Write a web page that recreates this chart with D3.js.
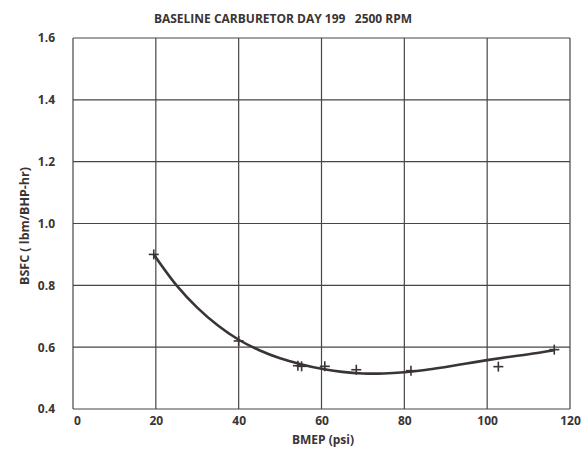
<!DOCTYPE html>
<html>
<head>
<meta charset="utf-8">
<script src="https://cdn.jsdelivr.net/npm/d3@7"></script>
<style>
  body { margin: 0; background: #fff; }
  text { font-family: "Open Sans", "DejaVu Sans", sans-serif; font-weight: bold; fill: #3a3434; }
</style>
</head>
<body>
<div id="chart"></div>
<script>
// BSFC vs BMEP, baseline carburetor, day 199, 2500 rpm

var w = 582,
    h = 451;

var margin = {top:38, right:12, bottom:42, left:73};

// measured points (+ markers)
var bmep = [19.5, 40, 54.3, 55.2, 60.8, 68.4, 81.6, 102.7, 116.2];
var bsfc = [0.900, 0.620, 0.540, 0.538, 0.538, 0.527, 0.524, 0.537, 0.592];

// faired curve
var curveX = [19.5, 25, 30, 35, 40, 45, 50, 55, 60, 65, 70, 75, 80, 85, 90, 95, 100, 105, 110, 116.2];
var curveY = [0.900, 0.800, 0.728, 0.670, 0.624, 0.590, 0.564, 0.545, 0.530, 0.520, 0.515, 0.515, 0.519, 0.526, 0.536, 0.547, 0.558, 0.568, 0.577, 0.590];

var xTicks = [0, 20, 40, 60, 80, 100, 120];
var yTicks = [0.4, 0.6, 0.8, 1.0, 1.2, 1.4, 1.6];

var ink = "#3a3434";

var svg = d3.select("#chart")
            .append("svg")
            .attr("width", w)
            .attr("height", h);

var x = d3.scaleLinear().domain([0, 120]).range([margin.left, w - margin.right]);
var y = d3.scaleLinear().domain([0.4, 1.6]).range([h - margin.bottom, margin.top]);

// grid
svg.append("g")
   .selectAll("line.v")
   .data(xTicks)
   .enter()
   .append("line")
   .attr("x1", function(d){ return x(d); })
   .attr("x2", function(d){ return x(d); })
   .attr("y1", y(0.4))
   .attr("y2", y(1.6))
   .attr("stroke", "#4a4444")
   .attr("stroke-width", 1.2);

svg.append("g")
   .selectAll("line.h")
   .data(yTicks)
   .enter()
   .append("line")
   .attr("x1", x(0))
   .attr("x2", x(120))
   .attr("y1", function(d){ return y(d); })
   .attr("y2", function(d){ return y(d); })
   .attr("stroke", "#4a4444")
   .attr("stroke-width", 1.2);

// axes (labels only, grid draws the lines)
var xAxis = svg.append("g")
   .attr("transform", "translate(0," + y(0.4) + ")")
   .call(d3.axisBottom(x).tickValues(xTicks).tickSize(0).tickPadding(7).tickFormat(d3.format("d")));
xAxis.select(".domain").remove();
xAxis.selectAll("text").attr("font-size", "12px").style("font-family", null);
xAxis.selectAll("text").filter(function(d){ return d === 0; }).attr("dx", 4);

var yAxis = svg.append("g")
   .attr("transform", "translate(" + x(0) + ",0)")
   .call(d3.axisLeft(y).tickValues(yTicks).tickSize(0).tickPadding(18).tickFormat(d3.format(".1f")));
yAxis.select(".domain").remove();
yAxis.selectAll("text").attr("font-size", "12px").style("font-family", null);

// faired curve
var line = d3.line()
   .x(function(d){ return x(d[0]); })
   .y(function(d){ return y(d[1]); })
   .curve(d3.curveCatmullRom);

svg.append("path")
   .datum(d3.zip(curveX, curveY))
   .attr("d", line)
   .attr("fill", "none")
   .attr("stroke", ink)
   .attr("stroke-width", 2.6);

// data markers
var pts = svg.append("g")
   .selectAll("g.pt")
   .data(d3.zip(bmep, bsfc))
   .enter()
   .append("g")
   .attr("transform", function(d){ return "translate(" + x(d[0]) + "," + y(d[1]) + ")"; });

pts.append("line").attr("x1", -5).attr("x2", 5).attr("y1", 0).attr("y2", 0)
   .attr("stroke", ink).attr("stroke-width", 1.6);
pts.append("line").attr("x1", 0).attr("x2", 0).attr("y1", -5).attr("y2", 5)
   .attr("stroke", ink).attr("stroke-width", 1.6);

// titles
svg.append("text")
   .attr("x", 283)
   .attr("y", 23)
   .attr("text-anchor", "middle")
   .attr("font-size", "12px")
   .attr("xml:space", "preserve")
   .text("BASELINE CARBURETOR DAY 199   2500 RPM");

svg.append("text")
   .attr("x", 323)
   .attr("y", 444)
   .attr("text-anchor", "middle")
   .attr("font-size", "12px")
   .text("BMEP (psi)");

svg.append("text")
   .attr("transform", "translate(29,226) rotate(-90)")
   .attr("text-anchor", "middle")
   .attr("font-size", "12.5px")
   .attr("xml:space", "preserve")
   .text("BSFC ( lbm/BHP-hr)");
</script>
</body>
</html>
